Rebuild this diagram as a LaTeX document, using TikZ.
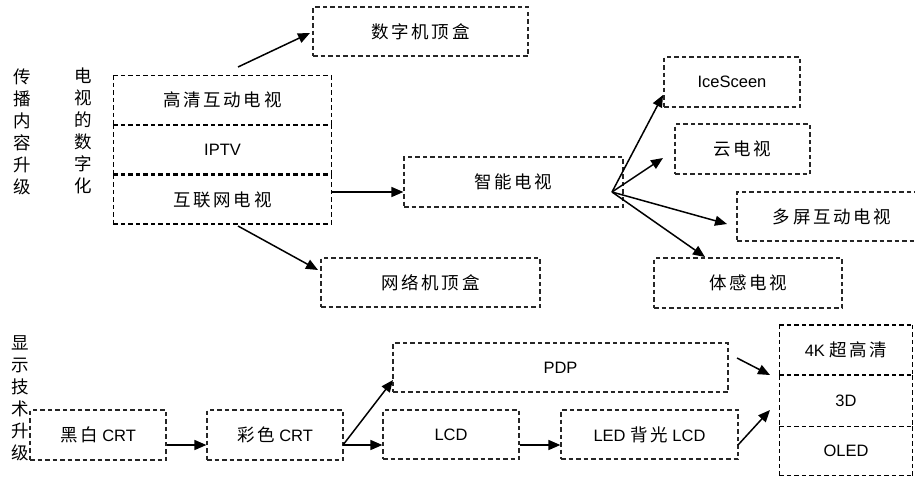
\documentclass[tikz,border=0pt]{standalone}
\usepackage{fontspec}
\setmainfont{Liberation Sans}
\newfontfamily\cjk{Noto Sans CJK SC}[LetterSpace=15]
\usetikzlibrary{arrows.meta}
\tikzset{
  dsh/.style={draw=black!85, line width=1.2pt, dash pattern=on 4.5pt off 3pt},
  dshs/.style={draw=black, line width=1.4pt, dash pattern=on 4.5pt off 3pt},
  box/.style={dsh, inner sep=0pt, font=\fontsize{16.5}{18}\selectfont, text=black},
  sbox/.style={inner sep=0pt, font=\fontsize{16.5}{18}\selectfont, text=black},
  arr/.style={line width=1.5pt, -{Triangle[length=12pt,width=10pt]}},
  vlab/.style={align=center, inner sep=0pt, font=\cjk\fontsize{17.5}{22}\selectfont}
}
\newcommand{\zh}[1]{{\cjk\fontsize{17.5}{19}\selectfont #1}}
\newcommand{\dbox}[1]{%
  \draw[dshs] ([xshift=0.6pt,yshift=-0.6pt]#1.north west) -- ([xshift=-0.6pt,yshift=-0.6pt]#1.north east);
  \draw[dshs] ([xshift=0.6pt,yshift=0.6pt]#1.south west) -- ([xshift=-0.6pt,yshift=0.6pt]#1.south east);
  \draw[dshs] ([xshift=0.6pt,yshift=-0.6pt]#1.north west) -- ([xshift=0.6pt,yshift=0.6pt]#1.south west);
  \draw[dshs] ([xshift=-0.6pt,yshift=-0.6pt]#1.north east) -- ([xshift=-0.6pt,yshift=0.6pt]#1.south east);}
\begin{document}
\begin{tikzpicture}[x=1pt,y=-1pt]
\clip (0,0) rectangle (915,479);
\fill[white] (0,0) rectangle (915,479);
% left vertical labels
\node[vlab] (l1) at (22,131.5) {传\\播\\内\\容\\升\\级};
\node[vlab] (l2) at (83,131) {电\\视\\的\\数\\字\\化};
\node[vlab] (l3) at (20,398.5) {显\\示\\技\\术\\升\\级};
% top area
\node[box, minimum width=215pt, minimum height=49pt] (stb1) at (420.5,31.5) {\zh{数字机顶盒}};
\node[sbox, minimum width=219pt, minimum height=50pt] (hd) at (222.5,100) {\zh{高清互动电视}};
\node[sbox, minimum width=219pt, minimum height=50pt] (iptv) at (222.5,149.5) {IPTV};
\node[sbox, minimum width=219pt, minimum height=50pt] (inet) at (222.5,199.5) {\zh{互联网电视}};
\dbox{hd}\dbox{iptv}\dbox{inet}
\node[box, minimum width=219pt, minimum height=50pt] (smart) at (513.5,182) {\zh{智能电视}};
\node[box, minimum width=219pt, minimum height=49pt] (stb2) at (430.5,282.5) {\zh{网络机顶盒}};
\node[box, minimum width=136pt, minimum height=50pt] (ice) at (732,82) {IceSceen};
\node[box, minimum width=135pt, minimum height=50pt] (cloud) at (742.5,149) {\zh{云电视}};
\node[box, minimum width=190pt, minimum height=49pt] (multi) at (832,216.5) {\zh{多屏互动电视}};
\node[box, minimum width=188pt, minimum height=50pt] (motion) at (748,283) {\zh{体感电视}};
% bottom area
\node[box, minimum width=136pt, minimum height=50pt] (bw) at (98,435) {\zh{黑白} CRT};
\node[box, minimum width=136pt, minimum height=50pt] (color) at (275,435) {\zh{彩色} CRT};
\node[box, minimum width=335pt, minimum height=49pt] (pdp) at (560.5,367.5) {PDP};
\node[box, minimum width=136pt, minimum height=49pt] (lcd) at (451,434.5) {LCD};
\node[box, minimum width=177pt, minimum height=49pt] (led) at (649.5,434.5) {LED \zh{背光} LCD};
\node[sbox, minimum width=134pt, minimum height=51pt] (k4) at (846,350) {4K \zh{超高清}};
\node[sbox, minimum width=134pt, minimum height=52pt] (d3) at (846,401) {3D};
\node[sbox, minimum width=134pt, minimum height=50pt] (oled) at (846,451) {OLED};
\dbox{k4}\dbox{d3}\dbox{oled}
% connector coordinates
\coordinate (g1) at (238,67);
\coordinate (g1e) at (310,33);
\coordinate (g2) at (332,192);
\coordinate (g3) at (238,226);
\coordinate (g3e) at (318,270);
\coordinate (fan) at (612,192);
\coordinate (iceE) at (663,95);
\coordinate (cloudE) at (663,158);
\coordinate (multiE) at (727,224);
\coordinate (motionE) at (705,257);
\coordinate (cs) at (343,445);
\coordinate (pdpE) at (393,380);
\coordinate (pdpS) at (737,358);
\coordinate (stkA) at (770,375);
\coordinate (ledS) at (738,445);
\coordinate (stkB) at (770,410);
% connectors
\draw[arr] (g1) -- (g1e);
\draw[arr] (g2) -- (smart.west |- g2);
\draw[arr] (g3) -- (g3e);
\draw[arr] (fan) -- (iceE);
\draw[arr] (fan) -- (cloudE);
\draw[arr] (fan) -- (multiE);
\draw[arr] (fan) -- (motionE);
\draw[arr] (bw.east |- cs) -- (color.west |- cs);
\draw[arr] (cs) -- (lcd.west |- cs);
\draw[arr] (cs) -- (pdpE);
\draw[arr] (lcd.east |- cs) -- (led.west |- cs);
\draw[arr] (pdpS) -- (stkA);
\draw[arr] (ledS) -- (stkB);
\end{tikzpicture}
\end{document}
